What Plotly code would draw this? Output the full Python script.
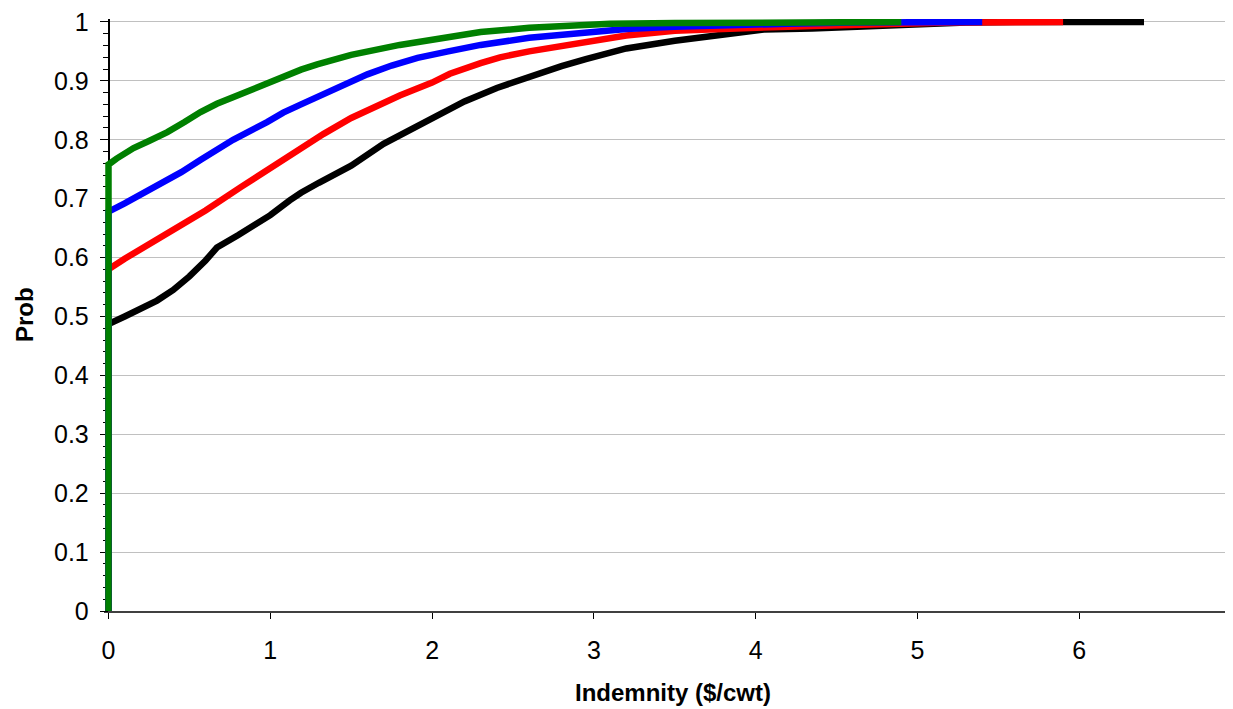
import plotly.graph_objects as go

# ---- data ----
black_x = [0, 0, 0.1, 0.2, 0.3, 0.4, 0.5, 0.6, 0.67, 0.8, 0.9, 1.0, 1.12, 1.19, 1.3, 1.5, 1.7, 1.85, 2.0, 2.2, 2.4, 2.6, 2.8, 2.95, 3.2, 3.5, 3.7, 3.85, 4.05, 4.35, 4.65, 5.0, 5.3, 5.6, 6.0, 6.4]
black_y = [0, 0.487, 0.5, 0.512, 0.527, 0.545, 0.568, 0.595, 0.617, 0.638, 0.655, 0.672, 0.697, 0.71, 0.727, 0.756, 0.793, 0.815, 0.837, 0.865, 0.888, 0.907, 0.925, 0.937, 0.955, 0.968, 0.975, 0.982, 0.987, 0.989, 0.993, 0.996, 0.999, 1.0, 1.0, 1.0]

red_x = [0, 0, 0.1, 0.2, 0.3, 0.45, 0.6, 0.82, 1.0, 1.19, 1.33, 1.5, 1.65, 1.8, 2.0, 2.11, 2.3, 2.42, 2.6, 2.9, 3.2, 3.5, 3.85, 4.1, 4.35, 4.8, 5.2, 5.9]
red_y = [0, 0.58, 0.598, 0.614, 0.630, 0.655, 0.68, 0.72, 0.752, 0.786, 0.810, 0.837, 0.857, 0.875, 0.897, 0.912, 0.930, 0.940, 0.950, 0.964, 0.977, 0.985, 0.99, 0.991, 0.993, 0.996, 0.999, 1.0]

blue_x = [0, 0, 0.1, 0.2, 0.3, 0.45, 0.57, 0.77, 0.98, 1.08, 1.19, 1.29, 1.45, 1.6, 1.75, 1.91, 2.1, 2.3, 2.6, 2.9, 3.2, 3.5, 3.8, 4.2, 4.6, 5.0, 5.4]
blue_y = [0, 0.678, 0.692, 0.707, 0.722, 0.745, 0.766, 0.800, 0.830, 0.846, 0.860, 0.873, 0.893, 0.911, 0.926, 0.939, 0.950, 0.961, 0.973, 0.981, 0.988, 0.992, 0.995, 0.997, 0.999, 1.0, 1.0]

green_x = [0, 0, 0.05, 0.155, 0.25, 0.364, 0.47, 0.569, 0.67, 0.773, 0.877, 0.98, 1.08, 1.19, 1.29, 1.5, 1.8, 2.1, 2.3, 2.6, 2.9, 3.1, 3.5, 3.9, 4.4, 4.9]
green_y = [0, 0.758, 0.768, 0.786, 0.798, 0.813, 0.83, 0.847, 0.861, 0.873, 0.885, 0.896, 0.907, 0.919, 0.928, 0.944, 0.961, 0.975, 0.983, 0.990, 0.994, 0.997, 0.998, 0.999, 1.0, 1.0]

x_ticks = [0, 1, 2, 3, 4, 5, 6]
y_ticks = [0, 0.1, 0.2, 0.3, 0.4, 0.5, 0.6, 0.7, 0.8, 0.9, 1]
y_tick_labels = ["0", "0.1", "0.2", "0.3", "0.4", "0.5", "0.6", "0.7", "0.8", "0.9", "1"]

x_title = "Indemnity ($/cwt)"
y_title = "Prob"

series = [
    ("Series 1", black_x, black_y, "#000000"),
    ("Series 2", red_x, red_y, "#ff0000"),
    ("Series 3", blue_x, blue_y, "#0000ff"),
    ("Series 4", green_x, green_y, "#008000"),
]

fig = go.Figure()
for name, xs, ys, color in series:
    fig.add_trace(go.Scatter(
        x=xs, y=ys, mode="lines", name=name,
        line=dict(color=color, width=6.5, shape="linear"),
        showlegend=False,
    ))

FONT = "Liberation Sans, Arial, sans-serif"
# the page body adds an 8px offset, so the figure is laid out 8px up/left
OFF = 8
W, H = 1233 - OFF, 709 - OFF
ML, MR, MT = 104 - OFF, 0, 19 - OFF
MB = H - (611 - OFF)
PW, PH = W - ML - MR, H - MT - MB

fig.update_layout(
    width=W, height=H,
    margin=dict(l=ML, r=MR, t=MT, b=MB, autoexpand=False),
    paper_bgcolor="white", plot_bgcolor="white",
    font=dict(family=FONT, size=25, color="black"),
    xaxis=dict(
        range=[-0.0278, 6.95],
        automargin=False,
        tickvals=x_ticks, ticktext=[str(v) for v in x_ticks],
        ticks="outside", ticklen=6, tickwidth=1, tickcolor="black",
        showline=True, linecolor="#404040", linewidth=2,
        showgrid=False, zeroline=False,
        ticklabelstandoff=10,
        ticklabeloverflow="allow",
        layer="below traces",
    ),
    yaxis=dict(
        range=[0, 1.005],
        automargin=False,
        anchor="free", position=4.5 / PW,
        tickvals=y_ticks, ticktext=y_tick_labels,
        ticks="outside", ticklen=8, tickwidth=1, tickcolor="black",
        minor=dict(dtick=0.02, tick0=0, ticks="outside", ticklen=5, tickcolor="black", showgrid=False),
        showline=True, linecolor="black", linewidth=1.5,
        showgrid=True, gridcolor="#c0c0c0", gridwidth=1,
        zeroline=False,
        ticklabelstandoff=6,
        ticklabeloverflow="allow",
        layer="below traces",
    ),
    annotations=[
        dict(text="<b>%s</b>" % x_title, xref="paper", yref="paper",
             x=(673 - OFF - ML) / PW, y=(MT + PH - (692 - OFF)) / PH,
             xanchor="center", yanchor="middle", showarrow=False,
             font=dict(family=FONT, size=24, color="black")),
        dict(text="<b>%s</b>" % y_title, xref="paper", yref="paper",
             x=(24 - OFF - ML) / PW, y=(MT + PH - (315 - OFF)) / PH, textangle=-90,
             xanchor="center", yanchor="middle", showarrow=False,
             font=dict(family=FONT, size=24, color="black")),
    ],
)

fig.write_html("out.html")
